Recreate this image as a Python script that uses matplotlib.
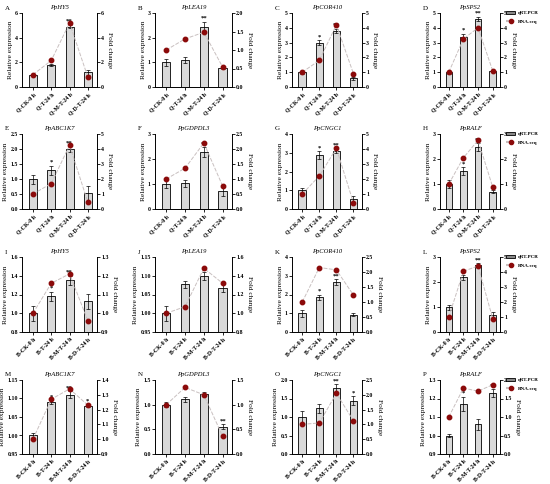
import matplotlib
matplotlib.use("Agg")
import matplotlib.pyplot as plt
from matplotlib.lines import Line2D
from matplotlib.patches import Patch

plt.rcParams['font.family'] = ['Liberation Serif', 'DejaVu Serif']
plt.rcParams['font.weight'] = 'bold'

q_groups = ["Q-CK-0 h", "Q-T-24 h", "Q-M-T-24 h", "Q-D-T-24 h"]
b_groups = ["B-CK-0 h", "B-T-24 h", "B-M-T-24 h", "B-D-T-24 h"]

letters = list("ABCDEFGHIJKLMNOP")
genes = ["PpHY5", "PpLEA19", "PpCOR410", "PpSPS2",
         "PpABC1K7", "PpGDPDL3", "PpCNGC1", "PpRALF",
         "PpHY5", "PpLEA19", "PpCOR410", "PpSPS2",
         "PpABC1K7", "PpGDPDL3", "PpCNGC1", "PpRALF"]

# qRT-PCR relative expression (bars)
qpcr = [[1.0, 1.8, 4.9, 1.2], [1.0, 1.08, 2.45, 0.77], [1.0, 3.0, 3.8, 0.6], [1.0, 3.4, 4.6, 1.1],
        [1.0, 1.3, 2.0, 0.52], [1.0, 1.03, 2.28, 0.72], [1.0, 2.88, 3.12, 0.55], [1.0, 1.52, 2.48, 0.7],
        [1.0, 1.18, 1.35, 1.13], [1.0, 1.077, 1.10, 1.067], [1.0, 1.85, 2.68, 0.93], [1.0, 2.2, 2.67, 0.7],
        [1.0, 1.09, 1.11, 1.08], [1.0, 1.11, 1.22, 0.55], [1.0, 1.23, 1.78, 1.44], [1.0, 1.17, 1.06, 1.23]]
qpcr_err = [[0.05, 0.1, 0.15, 0.2], [0.15, 0.12, 0.2, 0.05], [0.1, 0.15, 0.15, 0.1], [0.1, 0.2, 0.15, 0.05],
            [0.15, 0.15, 0.1, 0.25], [0.15, 0.15, 0.2, 0.2], [0.12, 0.2, 0.12, 0.15], [0.15, 0.15, 0.15, 0.05],
            [0.08, 0.05, 0.05, 0.08], [0.02, 0.01, 0.01, 0.01], [0.2, 0.15, 0.15, 0.1], [0.1, 0.1, 0.08, 0.12],
            [0.006, 0.005, 0.01, 0.003], [0.05, 0.05, 0.03, 0.05], [0.15, 0.12, 0.1, 0.12], [0.01, 0.04, 0.03, 0.02]]
stars = [["", "", "**", ""], ["", "", "**", ""], ["", "*", "**", ""], ["", "*", "**", ""],
         ["", "*", "**", ""], ["", "", "**", ""], ["", "*", "**", ""], ["", "*", "**", ""],
         ["", "*", "**", ""], ["", "", "", ""], ["", "*", "**", ""], ["", "*", "**", ""],
         ["", "*", "**", "*"], ["", "", "", "**"], ["", "", "**", "*"], ["", "*", "", "**"]]

# RNA-seq fold change (dots)
rnaseq = [[1.0, 2.15, 5.2, 0.8], [1.0, 1.3, 1.48, 0.54], [1.0, 1.8, 4.2, 0.9], [1.0, 3.25, 4.0, 1.1],
          [1.0, 1.7, 4.25, 0.45], [1.0, 1.36, 2.2, 0.77], [1.0, 2.2, 4.05, 0.4], [1.0, 2.05, 2.75, 0.88],
          [1.0, 1.16, 1.21, 0.96], [1.0, 1.07, 1.48, 1.32], [1.0, 2.15, 2.07, 1.23], [1.0, 4.05, 4.4, 0.9],
          [1.0, 1.27, 1.34, 1.23], [1.0, 1.35, 1.2, 0.36], [1.0, 1.05, 2.05, 1.12], [1.0, 1.78, 1.7, 1.87]]

left_ticks = [[0, 2, 4, 6], [0, 1, 2, 3], [0, 1, 2, 3, 4, 5], [0, 1, 2, 3, 4, 5],
              [0.0, 0.5, 1.0, 1.5, 2.0, 2.5], [0, 1, 2, 3], [0, 1, 2, 3, 4], [0, 1, 2, 3],
              [0.8, 1.0, 1.2, 1.4, 1.6], [0.95, 1.00, 1.05, 1.10, 1.15], [0, 1, 2, 3, 4], [0, 1, 2, 3],
              [0.95, 1.00, 1.05, 1.10, 1.15], [0.0, 0.5, 1.0, 1.5], [0.0, 0.5, 1.0, 1.5, 2.0], [0.9, 1.0, 1.1, 1.2, 1.3]]
left_fmt = ["%d", "%d", "%d", "%d", "%.1f", "%d", "%d", "%d",
            "%.1f", "%.2f", "%d", "%d", "%.2f", "%.1f", "%.1f", "%.1f"]
right_ticks = [[0, 2, 4, 6], [0.0, 0.5, 1.0, 1.5, 2.0], [0, 1, 2, 3, 4, 5], [0, 1, 2, 3, 4, 5],
               [0, 1, 2, 3, 4, 5], [0.0, 0.5, 1.0, 1.5, 2.0, 2.5], [0, 1, 2, 3, 4, 5], [0, 1, 2, 3],
               [0.9, 1.0, 1.1, 1.2, 1.3], [0.8, 1.0, 1.2, 1.4, 1.6], [0.0, 0.5, 1.0, 1.5, 2.0, 2.5], [0, 1, 2, 3, 4, 5],
               [0.9, 1.0, 1.1, 1.2, 1.3, 1.4], [0.0, 0.5, 1.0, 1.5], [0.0, 0.5, 1.0, 1.5, 2.0, 2.5], [0.0, 0.5, 1.0, 1.5, 2.0]]
right_fmt = ["%d", "%.1f", "%d", "%d", "%d", "%.1f", "%d", "%d",
             "%.1f", "%.1f", "%.1f", "%d", "%.1f", "%.1f", "%.1f", "%.1f"]

W, H = 550, 484
fig = plt.figure(figsize=(W / 100, H / 100), dpi=100)

col_x = [(22, 97), (155, 232), (292, 362), (440, 500)]
row_y = [(13, 87), (134, 209), (257, 332), (380, 454)]

bar_color = "#d9d9d9"
dot_color = "#8b0a0a"
line_color = "#c9c0c0"

for i in range(16):
    r, c = divmod(i, 4)
    x0, x1 = col_x[c]
    y0, y1 = row_y[r]
    ax = fig.add_axes([x0 / W, 1 - y1 / H, (x1 - x0) / W, (y1 - y0) / H])
    groups = q_groups if r < 2 else b_groups
    xs = range(4)

    ax.bar(xs, qpcr[i], width=0.44, color=bar_color, edgecolor="black", linewidth=0.6, zorder=2)
    ax.errorbar(xs, qpcr[i], yerr=qpcr_err[i], fmt="none", ecolor="black",
                elinewidth=0.5, capsize=1.2, capthick=0.5, zorder=3)
    lt = left_ticks[i]
    ax.set_ylim(lt[0], lt[-1])
    ax.set_yticks(lt)
    ax.set_yticklabels([left_fmt[i] % t for t in lt])
    span = lt[-1] - lt[0]
    for x, v, e, s in zip(xs, qpcr[i], qpcr_err[i], stars[i]):
        if s:
            ax.text(x, v + e + span * 0.01, s, ha="center", va="bottom", fontsize=4.8)
    ax.set_xlim(-0.6, 3.5)
    ax.set_xticks(list(xs))
    ax.set_xticklabels(groups, rotation=45, ha="right", rotation_mode="anchor", fontsize=4.2)
    ax.spines["top"].set_visible(False)
    ax.spines["right"].set_visible(False)
    for s in ["left", "bottom"]:
        ax.spines[s].set_linewidth(0.7)
    ax.tick_params(axis="y", labelsize=4.2, length=2, width=0.6, pad=1)
    ax.tick_params(axis="x", length=2, width=0.6, pad=1.5)
    ax.set_ylabel("Relative expression", fontsize=5.3, labelpad=1.5)
    ax.set_title(genes[i], fontsize=4.7, style="italic", pad=3)
    fig.text((x0 - 17) / W, 1 - (y0 - 5) / H, letters[i], fontsize=5, fontweight="normal",
             va="center", ha="left")

    ax2 = ax.twinx()
    rt = right_ticks[i]
    ax2.plot(xs, rnaseq[i], color=line_color, linewidth=0.7, linestyle=(0, (4, 1.5)), zorder=1)
    ax2.plot(xs, rnaseq[i], "o", color=dot_color, markersize=3.2, zorder=4)
    ax2.set_ylim(rt[0], rt[-1])
    ax2.set_yticks(rt)
    ax2.set_yticklabels([right_fmt[i] % t for t in rt])
    ax2.spines["top"].set_visible(False)
    ax2.spines["left"].set_visible(False)
    ax2.spines["bottom"].set_visible(False)
    ax2.spines["right"].set_linewidth(0.7)
    ax2.tick_params(labelsize=4.2, length=2, width=0.6, pad=1)
    ax2.set_ylabel("Fold change", fontsize=5.3, rotation=270, labelpad=6)

    if c == 3:
        handles = [Patch(facecolor="#888888", edgecolor="black", linewidth=0.6),
                   Line2D([], [], color=line_color, linestyle=(0, (4, 1.5)), marker="o",
                          markerfacecolor=dot_color, markeredgecolor=dot_color, markersize=3)]
        fig.legend(handles, ["qRT-PCR", "RNA-seq"], loc="upper left",
                   bbox_to_anchor=(506 / W, 1 - (y0 - 2) / H), frameon=False,
                   borderaxespad=0, borderpad=0, fontsize=3.6, handlelength=1.8,
                   handleheight=0.5, handletextpad=0.6, labelspacing=0.9)

fig.savefig("out.png", dpi=100)
